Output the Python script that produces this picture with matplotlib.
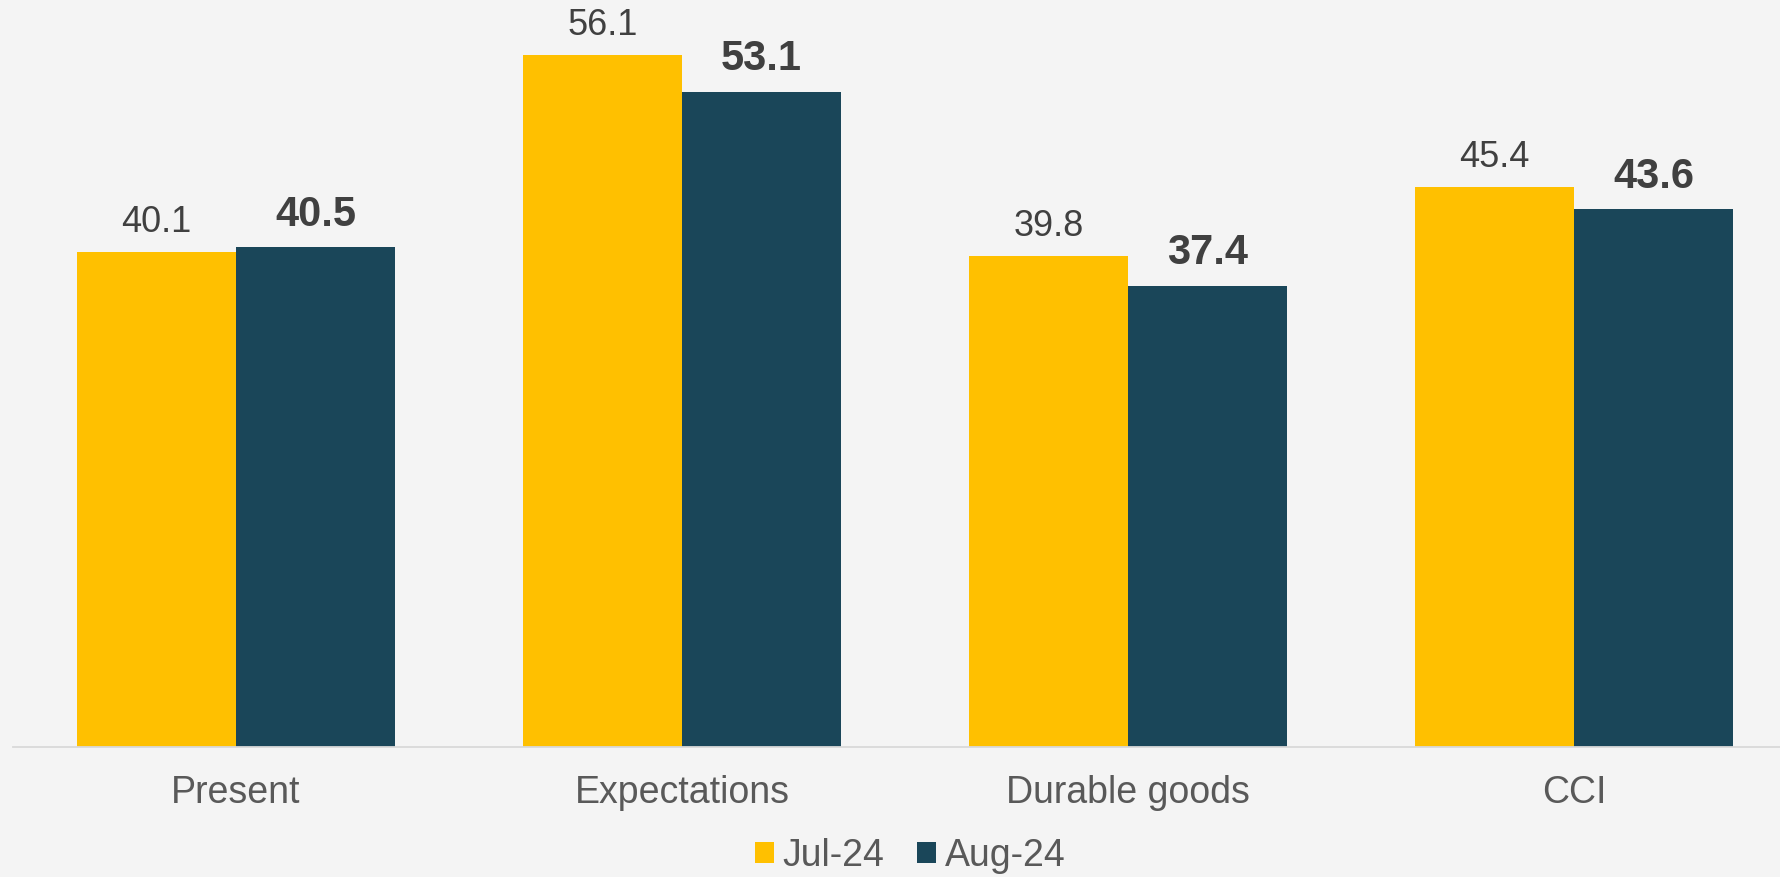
import matplotlib.pyplot as plt
import numpy as np

categories = ["Present", "Expectations", "Durable goods", "CCI"]
jul_24 = [40.1, 56.1, 39.8, 45.4]
aug_24 = [40.5, 53.1, 37.4, 43.6]
series_names = ["Jul-24", "Aug-24"]

YELLOW = "#FFC000"
NAVY = "#1A4659"
BG = "#F4F4F4"

plt.rcParams['font.family'] = ['Liberation Sans', 'DejaVu Sans']

W, H, DPI = 1781, 877, 100
fig = plt.figure(figsize=(W / DPI, H / DPI), dpi=DPI, facecolor=BG)

# axes laid out in pixel units of the figure
base_y = 746.7
ax = fig.add_axes([13 / W, (H - base_y) / H, 1 - 13 / W, base_y / H])
ax.set_facecolor(BG)

x = np.arange(len(categories))
width = 0.357
b1 = ax.bar(x - width / 2, jul_24, width, color=YELLOW, label=series_names[0])
b2 = ax.bar(x + width / 2, aug_24, width, color=NAVY, label=series_names[1])

group_px = 446.0
ax.set_xlim(-0.5, -0.5 + (W - 13) / group_px)
ax.set_ylim(0, base_y / 12.33)

for rect, v in zip(b1, jul_24):
    ax.annotate("%.1f" % v, (rect.get_x() + rect.get_width() / 2, v),
                xytext=(0, 20), textcoords='offset pixels', ha='center',
                va='baseline', fontsize=26, color="#404040")
for rect, v in zip(b2, aug_24):
    ax.annotate("%.1f" % v, (rect.get_x() + rect.get_width() / 2, v),
                xytext=(0, 21.5), textcoords='offset pixels', ha='center',
                va='baseline', fontsize=30, fontweight='bold', color="#404040")

# category names under the baseline
for i, name in enumerate(categories):
    ax.annotate(name, (i, 0), xycoords=('data', 'axes fraction'),
                xytext=(0, -56), textcoords='offset pixels', ha='center',
                va='baseline', fontsize=27, color="#595959", annotation_clip=False)

for side in ['left', 'right', 'top']:
    ax.spines[side].set_visible(False)
ax.spines['bottom'].set_color("#D9D9D9")
ax.spines['bottom'].set_linewidth(1.3)
ax.set_xticks([])
ax.set_yticks([])

leg = fig.legend(handles=[b1, b2], loc='center', bbox_to_anchor=(0.511, 0.024),
                 ncol=2, frameon=False, fontsize=27, handlelength=0.51,
                 handleheight=0.51, handletextpad=0.24, columnspacing=0.85,
                 borderpad=0, borderaxespad=0)
for t in leg.get_texts():
    t.set_color("#595959")

fig.savefig("out.png", dpi=DPI, facecolor=BG)
